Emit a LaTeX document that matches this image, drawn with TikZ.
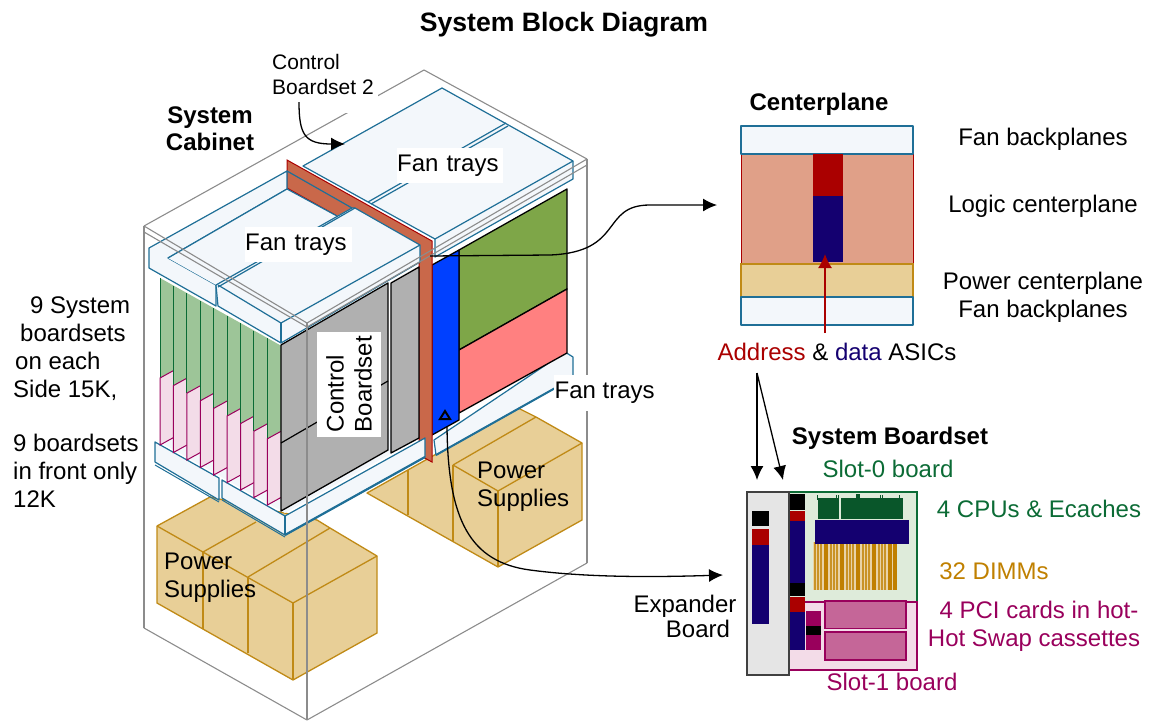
\documentclass[tikz,border=0pt]{standalone}
\usepackage{fontspec}
\setmainfont{Liberation Sans}
\usetikzlibrary{arrows.meta}
\definecolor{trayblue}{HTML}{1F6F97}
\definecolor{trayfill}{HTML}{F3F7FB}
\definecolor{cabgrey}{HTML}{8C8C8C}
\definecolor{psfill}{HTML}{E8CF97}
\definecolor{psline}{HTML}{C08A16}
\definecolor{redplane}{HTML}{C9684A}
\definecolor{darkred}{HTML}{AA0000}
\definecolor{navy}{HTML}{140070}
\definecolor{dkgreen}{HTML}{0B6B35}
\definecolor{brdgreen}{HTML}{9DC598}
\definecolor{brdpink}{HTML}{F3DCE8}
\definecolor{magen}{HTML}{99005C}
\definecolor{dimm}{HTML}{C08000}
\tikzset{
  txt/.style={inner sep=0pt,font=\fontsize{24}{28}\selectfont,align=center},
  bold/.style={txt,font=\fontsize{24}{27}\selectfont\bfseries},
  whitebox/.style={txt,fill=white},
  tray/.style={draw=trayblue,fill=trayfill,line width=1.2pt,line join=round},
  cab/.style={draw=cabgrey,line width=1.1pt},
  ps/.style={draw=psline,fill=psfill,line width=1.3pt,line join=round},
  ln/.style={draw=psline,line width=1.3pt},
  pane/.style={draw=black,line width=1.3pt,line join=round},
  conn/.style={draw=black,line width=1.3pt,-{Latex[length=14pt,width=13pt]}}
}
\begin{document}
\begin{tikzpicture}[x=1pt,y=-1pt]
  \useasboundingbox (0,0) rectangle (1150,721);
  % cabinet, back part
  \draw[cab] (144,226) -- (424,70) -- (587,159);
  \draw[cab] (144,628) -- (307,720);
  \draw[cab] (307,720) -- (587,563);
  % power supplies, back
  \draw[ps] (367,493) -- (518,408) -- (536,417) -- (582,443) -- (582,520) -- (498,567) -- (367,493) -- cycle;
  \draw[ln] (453,465) -- (536,417);
  \draw[ln] (453,465) -- (498,491) -- (582,443);
  \draw[ln] (498,491) -- (498,567);
  \draw[ln,line width=2pt] (453,465) -- (453,542);
  \draw[ln] (408,470) -- (408,515);
  % power supplies, front
  \draw[ps] (157,526) -- (210,497) -- (317,520) -- (330,528) -- (377,556) -- (377,633) -- (293,680) -- (157,603) -- cycle;
  \draw[ln] (157,526) -- (293,603) -- (377,556);
  \draw[ln] (293,603) -- (293,680);
  \draw[ln] (203,552) -- (256,522);
  \draw[ln] (248,577) -- (330,528);
  \draw[ln] (248,577) -- (248,653);
  \draw[ln,line width=2pt] (203,552) -- (203,629);
  % fan trays, bottom right
  \draw[tray] (434,440) -- (565,352) -- (573,357) -- (573,378) -- (436,455) -- cycle;
  \draw[trayblue,line width=2pt] (436,455) -- (573,378);
  % side panels
  \draw[pane,fill={rgb,255:red,126;green,166;blue,72}] (459,250) -- (567,189) -- (567,289) -- (459,350) -- cycle;
  \draw[pane,fill={rgb,255:red,255;green,128;blue,128}] (459,350) -- (567,289) -- (567,353) -- (459,413) -- cycle;
  \draw[pane,fill={rgb,255:red,0;green,64;blue,255}] (432,265) -- (459,250) -- (459,420) -- (432,435) -- cycle;
  \draw[black,line width=2pt,fill={rgb,255:red,0;green,64;blue,255}] (445,411) -- (450,419) -- (440,419) -- cycle;
  % red plane
  \draw[darkred,fill=redplane,line width=1pt] (287,160) -- (432,241) -- (432,462) -- (419,455) -- (419,250) -- (337,216) -- (287,188) -- cycle;
  % fan trays, top back
  \draw[tray] (303,166) -- (442,88) -- (573,161) -- (573,179) -- (435,257) -- (435,239) -- cycle;
  \draw[trayblue,line width=1.2pt] (435,239) -- (573,161);
  \draw[trayblue,line width=1.2pt] (368,202) -- (506,123);
  \draw[trayblue,line width=1.2pt] (371,204) -- (508,126);
  % fan trays, lower left
  \draw[tray] (155,442) -- (219,478) -- (219,500) -- (155,462) -- cycle;
  \draw[trayblue,line width=1pt] (155,465) -- (219,502);
  \draw[tray] (222,480) -- (285,516) -- (425,438) -- (425,457) -- (285,535) -- (222,498) -- cycle;
  \draw[trayblue,line width=1.2pt] (285,516) -- (285,535);
  \draw[trayblue,line width=1pt] (222,500) -- (285,537);
  \draw[trayblue,line width=2.2pt] (285,535) -- (425,457);
  \fill[trayfill] (160,442) -- (285,513) -- (419,438) -- (285,400) -- cycle;
  % boardsets
  \foreach \i in {0,...,8} {
    \pgfmathsetmacro{\xa}{160+13.42*\i}
    \pgfmathsetmacro{\xb}{160+13.42*(\i+1)}
    \pgfmathsetmacro{\ta}{278+7.5*\i}
    \pgfmathsetmacro{\tb}{\ta+7.5}
    \pgfmathsetmacro{\ma}{378+7.6*\i}
    \pgfmathsetmacro{\mb}{\ma-7.4}
    \pgfmathsetmacro{\ba}{445+7.5*\i}
    \pgfmathsetmacro{\bb}{\ba-7.4}
    \fill[brdgreen] (\xa,\ta) -- (\xb,\tb) -- (\xb,\mb) -- (\xa,\ma) -- cycle;
    \draw[dkgreen,line width=1pt] (\xa,\ta) -- (\xa,\ma);
    \fill[brdpink] (\xa,\ma) -- (\xb,\mb) -- (\xb,\bb) -- (\xa,\ba) -- cycle;
    \draw[magen,line width=1pt] (\xb,\mb) -- (\xa,\ma) -- (\xa,\ba) -- (\xb,\bb);
  }
  % control boardset panels
  \draw[pane,fill=black!31] (281,345) -- (388,283) -- (388,450) -- (281,511) -- cycle;
  \draw[black,line width=1.2pt] (281,443) -- (388,381);
  \draw[pane,fill=black!31] (391,283) -- (419,267) -- (419,438) -- (391,453) -- cycle;
  % fan trays, top front
  \draw[tray] (149,248) -- (287,171) -- (287,189) -- (168,258) -- (216,285) -- (216,306) -- (149,268) -- cycle;
  \fill[trayfill] (168,258) -- (287,189) -- (337,216) -- (352,208) -- (216,285) -- cycle;
  \draw[tray] (216,285) -- (352,208) -- (355,208) -- (420,245) -- (420,262) -- (281,343) -- (218,306) -- cycle;
  \draw[tray] (218,285) -- (281,323) -- (420,245);
  \draw[trayblue,line width=1.2pt] (281,323) -- (281,343);
  \draw[trayblue,line width=1.2pt] (287,171) -- (352,208);
  \draw[trayblue,line width=1.2pt] (287,189) -- (337,216);
  \draw[trayblue,line width=1.2pt] (168,258) -- (287,189);
  \draw[trayblue,line width=1.2pt] (218,287) -- (355,208);
  % cabinet, front part
  \draw[cab] (144,226) -- (307,323) -- (587,159);
  \draw[cab] (144,232) -- (307,327) -- (587,165);
  \draw[cab] (144,226) -- (144,628);
  \draw[cab] (307,323) -- (307,720);
  \draw[cab,line width=1.6pt] (587,159) -- (587,563);
  % centerplane
  \fill[fill={rgb,255:red,224;green,160;blue,136}] (741,154) rectangle (913,264);
  \draw[darkred,line width=1pt] (741,154) -- (741,264) (913,154) -- (913,264);
  \draw[draw=psline,fill=psfill,line width=1.2pt] (741,264) rectangle (913,297);
  \draw[tray] (741,126) rectangle (913,154);
  \draw[tray] (741,297) rectangle (913,325);
  \fill[darkred] (813,154) rectangle (843,196);
  \fill[navy] (813,196) rectangle (843,262);
  % system boardset
  \draw[draw=dkgreen,fill={rgb,255:red,222;green,235;blue,218},line width=1.2pt] (789,492) rectangle (917,602);
  \draw[draw=magen,fill=brdpink,line width=1.2pt] (789,602) rectangle (917,670);
  \fill[dkgreen!80!black] (818,498) rectangle (839,519);
  \fill[dkgreen!80!black] (841,498) rectangle (861,519);
  \fill[dkgreen!80!black] (861,498) rectangle (903,519);
  \foreach \x in {817,836,838,857,880,882,899} \draw[dkgreen!80!black,line width=1pt] (\x,495) -- (\x,500);
  \fill[dkgreen!80!black] (856,494) rectangle (860,499);
  \foreach \b in {813,829,845,861,877} {
    \fill[dimm!35!white] (\b,542) rectangle ++(19,48);
    \fill[dimm] (\b+11,542) rectangle ++(4,48);
    \foreach \d in {1,4,7} \fill[dimm!85!white] (\b+\d,542) rectangle ++(2,48);
  }
  \fill[dimm] (893,542) rectangle (897,590);
  \fill[navy] (815,520) rectangle (909,544);
  \draw[draw=magen,fill={rgb,255:red,197;green,102;blue,152},line width=1.2pt] (825,601) rectangle (906,628.5);
  \draw[draw=magen,fill={rgb,255:red,197;green,102;blue,152},line width=1.2pt] (825,632) rectangle (906,660);
  \fill[black] (790,494) rectangle (805,510);
  \fill[darkred] (790,511) rectangle (805,521);
  \fill[navy] (790,521) rectangle (805,583);
  \fill[black] (790,583) rectangle (805,596);
  \fill[darkred] (790,597) rectangle (805,612);
  \fill[navy] (790,612) rectangle (805,650);
  \fill[magen] (806,611) rectangle (821,626);
  \fill[black] (806,626) rectangle (821,635);
  \fill[magen] (806,635) rectangle (821,650);
  % expander board
  \draw[draw=black!75,fill=black!10,line width=1.4pt] (747,492) rectangle (789,675);
  \fill[black] (752,511) rectangle (769,526);
  \fill[darkred] (752,529) rectangle (769,545);
  \fill[navy] (752,545) rectangle (769,624);
  % white boxes and labels
  \fill[white] (272,45) rectangle (378,113);
  \node[bold,font=\fontsize{26.6}{30}\selectfont\bfseries] (ttl) at (564,25) {System Block Diagram};
  \node[bold] (cabinet) at (210,129) {System\\Cabinet};
  \node[txt,font=\fontsize{21}{24.5}\selectfont,align=left,anchor=west] (ctrltwo) at (272,74.5) {Control\\Boardset 2};
  \node[whitebox,text width=106,minimum height=35,align=left,anchor=west] (fanback) at (397,165.5) {Fan trays};
  \node[whitebox,text width=107,minimum height=35,align=left,anchor=west] (fanfront) at (245,244.5) {Fan trays};
  \node[whitebox,minimum width=101,minimum height=36,anchor=west] (fanlow) at (554,393) {Fan trays};
  \node[whitebox,rotate=90,minimum width=105,minimum height=64,align=left] (ctrl) at (349,384) {Control\\Boardset};
  \node[txt,align=left,anchor=west] (psback) at (477,487) {Power\\Supplies};
  \node[txt,align=left,anchor=west] (psfront) at (164,578) {Power\\Supplies};
  \node[txt,align=left,anchor=west] (sideA) at (13,349) {\hspace*{17pt}9 System\\\hspace*{7pt}boardsets\\\hspace*{2pt}on each\\Side 15K,};
  \node[txt,align=left,anchor=west] (sideB) at (13,470.5) {9 boardsets\\in front only\\12K};
  \node[bold] (center) at (819,104) {Centerplane};
  \node[txt] (fanbpa) at (1043,139.5) {Fan backplanes};
  \node[txt] (logic) at (1043,206.5) {Logic centerplane};
  \node[txt] (power) at (1043,297) {Power centerplane\\Fan backplanes};
  \node[txt] (asics) at (837,352) {\textcolor{darkred}{Address} \& \textcolor{navy}{data} ASICs};
  \node[bold] (sysbrd) at (890,438) {System Boardset};
  \node[txt,text=dkgreen] (slotzero) at (888,469) {Slot-0 board};
  \node[txt,text=dkgreen] (cpus) at (1039,509) {4 CPUs \& Ecaches};
  \node[txt,text=dimm] (dimms) at (994,571) {32 DIMMs};
  \node[txt,text=magen] (pci) at (1034,626) {\hspace*{10pt}4 PCI cards in hot-\\Hot Swap cassettes};
  \node[txt,text=magen] (slotone) at (892,682) {Slot-1 board};
  \node[txt,font=\fontsize{24}{25}\selectfont] (expander) at (685,616) {Expander\\\hspace*{26pt}Board};
  % connectors
  \coordinate (ctrlfrom) at (299,102);
  \coordinate (ctrlto) at (345,144);
  \coordinate (planefrom) at (430,256);
  \coordinate (planeto) at (717,205);
  \coordinate (blockfrom) at (447,427);
  \coordinate (blockto) at (723,575);
  \coordinate (asicfrom) at (757,373);
  \coordinate (asicleft) at (757,480);
  \coordinate (asicright) at (783,480);
  \coordinate (chipfrom) at (825,333);
  \coordinate (chipto) at (825,254);
  \draw[conn] (ctrlfrom) .. controls (299,135) and (305,144) .. (ctrlto);
  \draw[conn] (planefrom) -- (550,255) .. controls (625,252) and (600,205) .. (650,205) -- (planeto);
  \draw[conn] (blockfrom) .. controls (448,520) and (470,562) .. (530,570) .. controls (590,578) and (660,577) .. (blockto);
  \foreach \from/\to in {asicfrom/asicleft,asicfrom/asicright}
    \draw[conn] (\from) -- (\to);
  \draw[draw=darkred,line width=1.6pt,-{Latex[length=14pt,width=14pt]}] (chipfrom) -- (chipto);
\end{tikzpicture}
\end{document}
